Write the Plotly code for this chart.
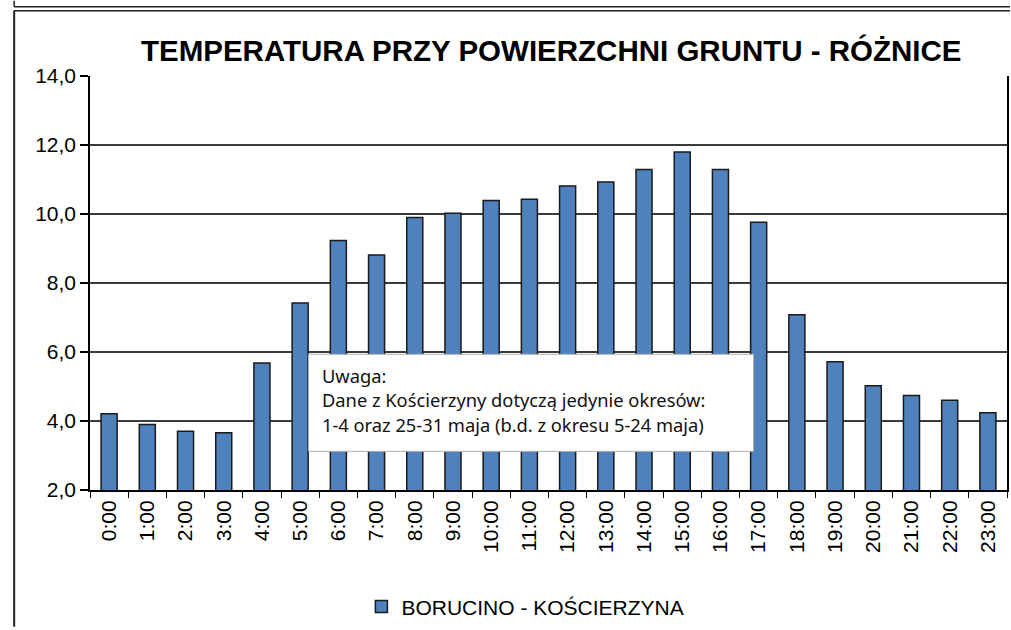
import plotly.graph_objects as go

hours = [f"{h}:00" for h in range(24)]
values = [4.21, 3.90, 3.70, 3.66, 5.68, 7.42, 9.23, 8.81, 9.90, 10.02, 10.39, 10.43,
          10.81, 10.93, 11.29, 11.80, 11.29, 9.76, 7.08, 5.72, 5.02, 4.74, 4.60, 4.24]
series_name = "BORUCINO - KOŚCIERZYNA"
title_text = "TEMPERATURA PRZY POWIERZCHNI GRUNTU - RÓŻNICE"
note_lines = ["Uwaga:",
              "Dane z Kościerzyny dotyczą jedynie okresów:",
              "1-4 oraz 25-31 maja (b.d. z okresu 5-24 maja)"]
y_ticks = [2, 4, 6, 8, 10, 12, 14]

W, H = 1011, 630
L, R, T, B = 90, 1009, 76, 494
pw, ph = R - L, B - T


def px(x):
    return (x - L) / pw


def py(y):
    return (B - y) / ph


fig = go.Figure()
fig.add_trace(go.Bar(
    x=hours, y=values, name=series_name,
    marker=dict(color="#4F81BD", line=dict(color="#1a1a1a", width=1.5)),
    width=0.42, showlegend=True,
))

shapes = []
line_style = dict(color="#222222", width=1.5)
shapes.append(dict(type="line", xref="paper", yref="paper", x0=px(14), x1=px(14), y0=py(0), y1=py(6), line=line_style, layer="above"))
shapes.append(dict(type="line", xref="paper", yref="paper", x0=px(14), x1=px(1012), y0=py(6), y1=py(6), line=line_style, layer="above"))
shapes.append(dict(type="line", xref="paper", yref="paper", x0=px(14), x1=px(1012), y0=py(10), y1=py(10), line=line_style, layer="above"))
shapes.append(dict(type="line", xref="paper", yref="paper", x0=px(14), x1=px(14), y0=py(10), y1=py(632), line=dict(color="#222222", width=2), layer="above"))
shapes.append(dict(type="rect", xref="paper", yref="paper", x0=px(309), x1=px(755), y0=py(455), y1=py(357),
                   fillcolor="white", line=dict(color="#b0b0b0", width=1), layer="above"))

annotations = [
    dict(text=f"<b>{title_text}</b>", xref="paper", yref="paper", x=px(553), y=py(50),
         xanchor="center", yanchor="middle", showarrow=False,
         font=dict(family="Liberation Sans Narrow, Arial Narrow, Arial, sans-serif", size=29.5, color="black")),
]
for i, t in enumerate(note_lines):
    annotations.append(dict(text=t, xref="paper", yref="paper", x=px(321), y=py(378 + 25 * i),
                            xanchor="left", yanchor="middle", showarrow=False,
                            font=dict(family="Noto Sans, sans-serif", size=18.3, color="#111111")))

fig.update_layout(
    width=W, height=H,
    margin=dict(l=L, r=W - R, t=T, b=H - B, pad=0),
    paper_bgcolor="white", plot_bgcolor="white",
    separators=", ",
    shapes=shapes,
    annotations=annotations,
    showlegend=True,
    legend=dict(orientation="h", x=px(362), y=py(612), xanchor="left", yanchor="middle",
                font=dict(family="Arial, Liberation Sans, sans-serif", size=21, color="black"),
                itemwidth=30, bgcolor="rgba(0,0,0,0)"),
    font=dict(family="Arial, Liberation Sans, sans-serif", color="black"),
)

fig.update_xaxes(
    type="category", tickangle=-90, tickson="boundaries", ticks="outside", ticklen=6,
    tickcolor="black", tickwidth=1, showline=True, linecolor="black", linewidth=2,
    showgrid=False, tickfont=dict(size=21, family="Arial, Liberation Sans, sans-serif", color="black"),
    fixedrange=True,
)
fig.update_yaxes(
    range=[2, 14], tickvals=y_ticks, tickformat=".1f", ticks="outside", ticklen=8,
    tickcolor="black", tickwidth=1.5, showline=True, linecolor="black", linewidth=1.5, mirror=True,
    showgrid=True, gridcolor="#3a3a3a", gridwidth=1.5, zeroline=False,
    tickfont=dict(size=21, family="Arial, Liberation Sans, sans-serif", color="black"),
    fixedrange=True,
)

fig.write_html("out.html", config={"displayModeBar": False},
               post_script="document.body.style.margin='0';document.body.style.overflow='hidden';")
